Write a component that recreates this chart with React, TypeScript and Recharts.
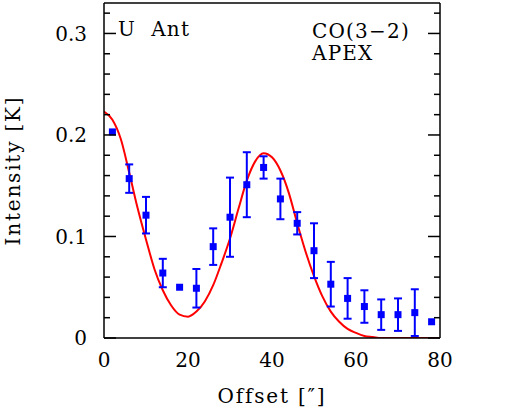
import React from 'react';
import { ComposedChart, Line, Scatter, ErrorBar, XAxis, YAxis } from 'recharts';

// observed points
const offsets = [2, 6, 10, 14, 18, 22, 26, 30, 34, 38, 42, 46, 50, 54, 58, 62, 66, 70, 74, 78];
const intensity = [0.203, 0.157, 0.121, 0.064, 0.05, 0.049, 0.09, 0.119, 0.151, 0.168, 0.137, 0.113, 0.086, 0.053, 0.039, 0.031, 0.023, 0.023, 0.025, 0.016];
const errors = [null, 0.014, 0.018, 0.014, null, 0.019, 0.018, 0.039, 0.032, 0.011, 0.02, 0.011, 0.027, 0.022, 0.02, 0.016, 0.015, 0.016, 0.023, null];

// model curve
const modelOffsets = [0, 2, 4, 6, 8, 10, 12, 14, 16, 18, 20, 22, 24, 26, 28, 30, 32, 34, 36, 38, 40, 42, 44, 46, 48, 50, 52, 54, 56, 58, 60, 62, 64, 66, 70, 74, 80];
const modelIntensity = [0.223, 0.215, 0.196, 0.163, 0.128, 0.097, 0.068, 0.047, 0.032, 0.023, 0.021, 0.026, 0.036, 0.052, 0.074, 0.098, 0.127, 0.155, 0.174, 0.182, 0.178, 0.165, 0.143, 0.113, 0.085, 0.061, 0.041, 0.026, 0.016, 0.009, 0.005, 0.002, 0.001, 0, 0, 0, 0];

const xMajor = [0, 20, 40, 60, 80];
const xMinor = [10, 30, 50, 70];
const yMajor = [0, 0.1, 0.2, 0.3];
const yMinor = [0.02, 0.04, 0.06, 0.08, 0.12, 0.14, 0.16, 0.18, 0.22, 0.24, 0.26, 0.28, 0.32];
const xAll = [...xMajor, ...xMinor];
const yAll = [...yMajor, ...yMinor];

const points = offsets.map((x, i) => ({ x, y: intensity[i], err: errors[i] }));
const model = modelOffsets.map((x, i) => ({ x, y: modelIntensity[i] }));

const FONT = 'DejaVu Serif';
const BLUE = '#0000FF';
const frame = { stroke: '#000', strokeWidth: 1.5 };

const Square = (props: any) => {
  const { cx, cy } = props;
  if (cx == null || cy == null) return null;
  return <rect x={cx - 3.5} y={cy - 3.5} width={7} height={7} fill={BLUE} />;
};

// inward tick marks, long for major values, short for minor
const makeTick = (side: 'b' | 't' | 'l' | 'r', majors: number[]) => (props: any) => {
  const { x, y, payload } = props;
  const len = majors.includes(payload.value) ? 12 : 6;
  let x2 = x, y2 = y;
  if (side === 'b') y2 = y - len;
  if (side === 't') y2 = y + len;
  if (side === 'l') x2 = x + len;
  if (side === 'r') x2 = x - len;
  return <line x1={x} y1={y} x2={x2} y2={y2} {...frame} />;
};

const fmtY = (v: number) => (v === 0 ? '0' : v.toFixed(1));

export default function App() {
  return (
    <div style={{ position: 'absolute', left: 0, top: 0, width: 505, height: 409, background: '#fff' }}>
      <ComposedChart width={505} height={409} margin={{ top: 3, right: 65, bottom: 0, left: 0 }}>
        <XAxis
          xAxisId="x"
          type="number"
          dataKey="x"
          domain={[0, 80]}
          ticks={xMajor}
          allowDataOverflow
          height={71}
          tickLine={false}
          tickSize={6}
          tickMargin={9}
          axisLine={frame}
          tick={{ fill: '#000', fontSize: 20, fontFamily: FONT }}
          label={{ value: 'Offset [″]', position: 'insideBottom', offset: 6, fill: '#000', fontSize: 20, fontFamily: FONT, letterSpacing: 1.8 }}
        />
        <XAxis xAxisId="bT" orientation="bottom" type="number" domain={[0, 80]} allowDataOverflow ticks={xAll} interval={0} mirror height={1} tickSize={0} tickMargin={0} tickLine={false} axisLine={false} tick={makeTick('b', xMajor)} />
        <XAxis xAxisId="tT" orientation="top" type="number" domain={[0, 80]} allowDataOverflow ticks={xAll} interval={0} mirror height={1} tickSize={0} tickMargin={0} tickLine={false} axisLine={frame} tick={makeTick('t', xMajor)} />

        <YAxis
          yAxisId="y"
          type="number"
          dataKey="y"
          domain={[0, 0.33]}
          ticks={yMajor}
          allowDataOverflow
          width={104}
          tickLine={false}
          tickSize={6}
          tickMargin={11}
          tickFormatter={fmtY}
          axisLine={frame}
          tick={{ fill: '#000', fontSize: 20, fontFamily: FONT }}
          label={{ value: 'Intensity [K]', angle: -90, position: 'insideLeft', offset: 13, fill: '#000', fontSize: 20, fontFamily: FONT, letterSpacing: 1.8, style: { textAnchor: 'middle' } }}
        />
        <YAxis yAxisId="lT" orientation="left" type="number" domain={[0, 0.33]} allowDataOverflow ticks={yAll} interval={0} mirror width={1} tickSize={0} tickMargin={0} tickLine={false} axisLine={false} tick={makeTick('l', yMajor)} />
        <YAxis yAxisId="rT" orientation="right" type="number" domain={[0, 0.33]} allowDataOverflow ticks={yAll} interval={0} mirror width={1} tickSize={0} tickMargin={0} tickLine={false} axisLine={frame} tick={makeTick('r', yMajor)} />

        <Line
          xAxisId="x"
          yAxisId="y"
          data={model}
          dataKey="y"
          type="monotone"
          stroke="#FF0000"
          strokeWidth={2}
          dot={false}
          activeDot={false}
          isAnimationActive={false}
        />
        <Scatter xAxisId="x" yAxisId="y" data={points} dataKey="y" shape={Square} isAnimationActive={false}>
          <ErrorBar dataKey="err" direction="y" width={4} stroke={BLUE} strokeWidth={2} isAnimationActive={false} />
        </Scatter>
      </ComposedChart>
      <svg width={505} height={409} style={{ position: 'absolute', left: 0, top: 0, pointerEvents: 'none' }}>
        <g fontFamily={FONT} fontSize={20} fill="#000" letterSpacing={1.2}>
          <text x={118} y={36}>{'U\u00A0\u00A0Ant'}</text>
          <text x={312} y={38}>CO(3−2)</text>
          <text x={312} y={60}>APEX</text>
        </g>
      </svg>
    </div>
  );
}
